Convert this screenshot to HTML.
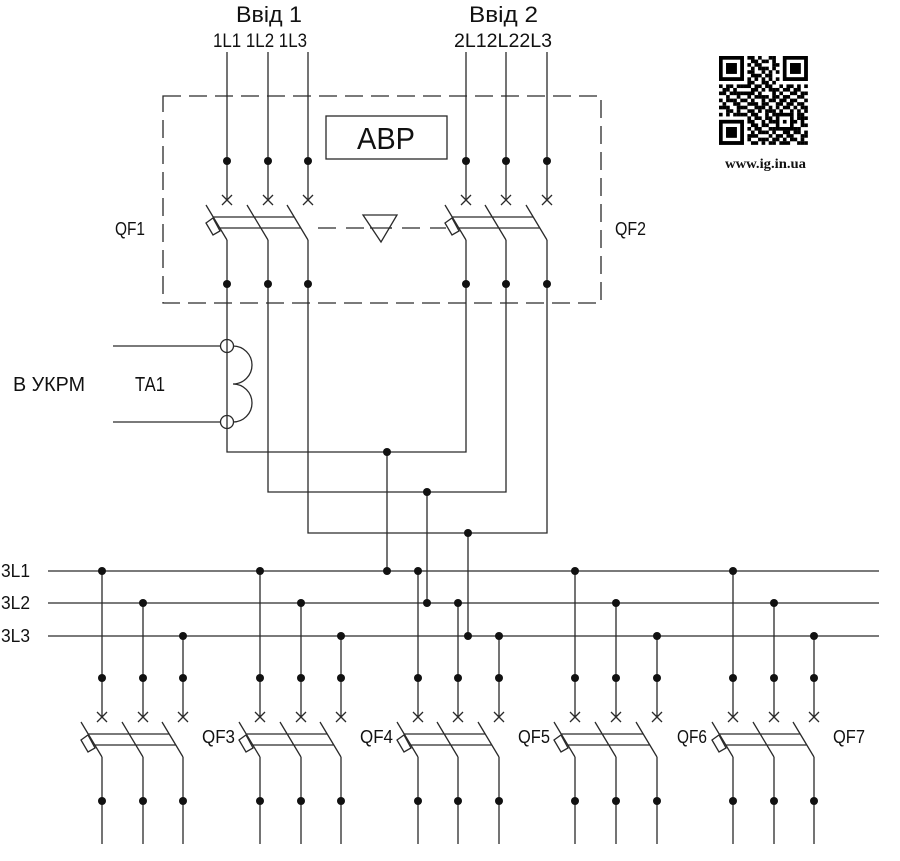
<!DOCTYPE html>
<html><head><meta charset="utf-8"><style>
html,body{margin:0;padding:0;background:#fff;}
svg{display:block;}
text{font-family:"Liberation Sans","DejaVu Sans",sans-serif;fill:#111;}
</style></head><body>
<svg id="s" width="900" height="861" viewBox="0 0 900 861" xmlns="http://www.w3.org/2000/svg">
<rect width="900" height="861" fill="#fff"/>
<g stroke="#2a2a2a" stroke-width="1.3" fill="none">
<!-- dashed ABP box -->
<rect x="163" y="96" width="438" height="207" stroke-dasharray="18 8"/>
<rect x="326" y="116" width="121" height="43"/>
<!-- top input wires -->
<path d="M227,52V200 M268,52V200 M308,52V200 M466,52V200 M506,52V200 M547,52V200"/>
<!-- QF1 -->
<path d="M222,195l10,10m0,-10l-10,10 M263,195l10,10m0,-10l-10,10 M303,195l10,10m0,-10l-10,10"/>
<path d="M206,205L227,240 M247,205L268,240 M287,205L308,240"/>
<path d="M213.2,217H294.2 M219.8,228H300.8"/>
<!-- QF2 -->
<path d="M461,195l10,10m0,-10l-10,10 M501,195l10,10m0,-10l-10,10 M542,195l10,10m0,-10l-10,10"/>
<path d="M445,205L466,240 M485,205L506,240 M526,205L547,240"/>
<path d="M452.2,217H533.2 M458.8,228H539.8"/>
<!-- interlock dashed -->
<path d="M318,228H446" stroke-dasharray="18 10"/>
<polygon points="363,215 397,215 381,242" fill="#fff"/>
<path d="M370,228H392" stroke-dasharray="0"/>
<!-- wires below top breakers -->
<path d="M227,240V452H466V240 M268,240V492H506V240 M308,240V533H547V240"/>
<path d="M387,452V571 M427,492V603 M468,533V636"/>
<!-- TA1 -->
<path d="M113,346H220.5 M113,422H220.5"/>
<circle cx="227" cy="346" r="6.5" fill="#fff"/>
<circle cx="227" cy="422" r="6.5" fill="#fff"/>
<path d="M227,339.5V352.5 M227,415.5V428.5"/>
<path d="M233,346A19,19 0 0 1 233,384A19,19 0 0 1 233,422"/>
<!-- buses -->
<path d="M48,571H879 M48,603H879 M48,636H879"/>
<!-- bottom groups -->
<path d="M102,571V717 M143,603V717 M183,636V717 M102,757V844 M143,757V844 M183,757V844
M97,712l10,10m0,-10l-10,10 M138,712l10,10m0,-10l-10,10 M178,712l10,10m0,-10l-10,10
M81,722L102,757 M122,722L143,757 M162,722L183,757 M88.2,734H169.2 M94.8,745H175.8"/>
<path d="M260,571V717 M301,603V717 M341,636V717 M260,757V844 M301,757V844 M341,757V844
M255,712l10,10m0,-10l-10,10 M296,712l10,10m0,-10l-10,10 M336,712l10,10m0,-10l-10,10
M239,722L260,757 M280,722L301,757 M320,722L341,757 M246.2,734H327.2 M252.8,745H333.8"/>
<path d="M418,571V717 M458,603V717 M499,636V717 M418,757V844 M458,757V844 M499,757V844
M413,712l10,10m0,-10l-10,10 M453,712l10,10m0,-10l-10,10 M494,712l10,10m0,-10l-10,10
M397,722L418,757 M437,722L458,757 M478,722L499,757 M404.2,734H485.2 M410.8,745H491.8"/>
<path d="M575,571V717 M616,603V717 M657,636V717 M575,757V844 M616,757V844 M657,757V844
M570,712l10,10m0,-10l-10,10 M611,712l10,10m0,-10l-10,10 M652,712l10,10m0,-10l-10,10
M554,722L575,757 M595,722L616,757 M636,722L657,757 M561.2,734H643.2 M567.8,745H649.8"/>
<path d="M733,571V717 M774,603V717 M814,636V717 M733,757V844 M774,757V844 M814,757V844
M728,712l10,10m0,-10l-10,10 M769,712l10,10m0,-10l-10,10 M809,712l10,10m0,-10l-10,10
M712,722L733,757 M753,722L774,757 M793,722L814,757 M719.2,734H800.2 M725.8,745H806.8"/>
<!-- actuators -->
<g fill="#fff">
<polygon points="206,223 213,218 220,231 213,235"/>
<polygon points="445,223 452,218 459,231 452,235"/>
<polygon points="81,740 88,735 95,748 88,752"/>
<polygon points="239,740 246,735 253,748 246,752"/>
<polygon points="397,740 404,735 411,748 404,752"/>
<polygon points="554,740 561,735 568,748 561,752"/>
<polygon points="712,740 719,735 726,748 719,752"/>
</g>
</g>
<!-- dots -->
<g fill="#111">
<circle cx="227" cy="161" r="4"/><circle cx="268" cy="161" r="4"/><circle cx="308" cy="161" r="4"/>
<circle cx="466" cy="161" r="4"/><circle cx="506" cy="161" r="4"/><circle cx="547" cy="161" r="4"/>
<circle cx="227" cy="284" r="4"/><circle cx="268" cy="284" r="4"/><circle cx="308" cy="284" r="4"/>
<circle cx="466" cy="284" r="4"/><circle cx="506" cy="284" r="4"/><circle cx="547" cy="284" r="4"/>
<circle cx="387" cy="452" r="4"/><circle cx="427" cy="492" r="4"/><circle cx="468" cy="533" r="4"/>
<circle cx="387" cy="571" r="4"/><circle cx="427" cy="603" r="4"/><circle cx="468" cy="636" r="4"/>
<circle cx="102" cy="571" r="4"/><circle cx="143" cy="603" r="4"/><circle cx="183" cy="636" r="4"/>
<circle cx="260" cy="571" r="4"/><circle cx="301" cy="603" r="4"/><circle cx="341" cy="636" r="4"/>
<circle cx="418" cy="571" r="4"/><circle cx="458" cy="603" r="4"/><circle cx="499" cy="636" r="4"/>
<circle cx="575" cy="571" r="4"/><circle cx="616" cy="603" r="4"/><circle cx="657" cy="636" r="4"/>
<circle cx="733" cy="571" r="4"/><circle cx="774" cy="603" r="4"/><circle cx="814" cy="636" r="4"/>
<circle cx="102" cy="678" r="4"/><circle cx="143" cy="678" r="4"/><circle cx="183" cy="678" r="4"/>
<circle cx="260" cy="678" r="4"/><circle cx="301" cy="678" r="4"/><circle cx="341" cy="678" r="4"/>
<circle cx="418" cy="678" r="4"/><circle cx="458" cy="678" r="4"/><circle cx="499" cy="678" r="4"/>
<circle cx="575" cy="678" r="4"/><circle cx="616" cy="678" r="4"/><circle cx="657" cy="678" r="4"/>
<circle cx="733" cy="678" r="4"/><circle cx="774" cy="678" r="4"/><circle cx="814" cy="678" r="4"/>
<circle cx="102" cy="801" r="4"/><circle cx="143" cy="801" r="4"/><circle cx="183" cy="801" r="4"/>
<circle cx="260" cy="801" r="4"/><circle cx="301" cy="801" r="4"/><circle cx="341" cy="801" r="4"/>
<circle cx="418" cy="801" r="4"/><circle cx="458" cy="801" r="4"/><circle cx="499" cy="801" r="4"/>
<circle cx="575" cy="801" r="4"/><circle cx="616" cy="801" r="4"/><circle cx="657" cy="801" r="4"/>
<circle cx="733" cy="801" r="4"/><circle cx="774" cy="801" r="4"/><circle cx="814" cy="801" r="4"/>
</g>
<!-- labels -->
<text x="236" y="22" font-size="22" textLength="66" lengthAdjust="spacingAndGlyphs">Ввід 1</text>
<text x="469" y="22" font-size="22" textLength="69" lengthAdjust="spacingAndGlyphs">Ввід 2</text>
<text x="213" y="47" font-size="19" textLength="94" lengthAdjust="spacingAndGlyphs">1L1 1L2 1L3</text>
<text x="454" y="47" font-size="19" textLength="98" lengthAdjust="spacingAndGlyphs">2L12L22L3</text>
<text x="357" y="149" font-size="31" textLength="58" lengthAdjust="spacingAndGlyphs">АВР</text>
<text x="115" y="235" font-size="18" textLength="30" lengthAdjust="spacingAndGlyphs">QF1</text>
<text x="615" y="235" font-size="18" textLength="31" lengthAdjust="spacingAndGlyphs">QF2</text>
<text x="13" y="391" font-size="20" textLength="72" lengthAdjust="spacingAndGlyphs">В УКРМ</text>
<text x="135" y="391" font-size="20" textLength="30" lengthAdjust="spacingAndGlyphs">ТА1</text>
<text x="1" y="577" font-size="18" textLength="29" lengthAdjust="spacingAndGlyphs">3L1</text>
<text x="1" y="609" font-size="18" textLength="29" lengthAdjust="spacingAndGlyphs">3L2</text>
<text x="1" y="642" font-size="18" textLength="29" lengthAdjust="spacingAndGlyphs">3L3</text>
<text x="202" y="743" font-size="18" textLength="33" lengthAdjust="spacingAndGlyphs">QF3</text>
<text x="360" y="743" font-size="18" textLength="33" lengthAdjust="spacingAndGlyphs">QF4</text>
<text x="518" y="743" font-size="18" textLength="32" lengthAdjust="spacingAndGlyphs">QF5</text>
<text x="677" y="743" font-size="18" textLength="30" lengthAdjust="spacingAndGlyphs">QF6</text>
<text x="833" y="743" font-size="18" textLength="32" lengthAdjust="spacingAndGlyphs">QF7</text>
<text x="725" y="168" font-size="14" font-weight="bold" textLength="81" lengthAdjust="spacingAndGlyphs" style="font-family:'Liberation Serif',serif">www.ig.in.ua</text>
<!-- QR static finders -->
<g id="qr" fill="#000">
<rect x="719" y="56" width="24.85" height="24.85"/><rect x="722.55" y="59.55" width="17.75" height="17.75" fill="#fff"/><rect x="726.1" y="63.1" width="10.65" height="10.65"/>
<rect x="782.9" y="56" width="24.85" height="24.85"/><rect x="786.45" y="59.55" width="17.75" height="17.75" fill="#fff"/><rect x="790" y="63.1" width="10.65" height="10.65"/>
<rect x="719" y="119.9" width="24.85" height="24.85"/><rect x="722.55" y="123.45" width="17.75" height="17.75" fill="#fff"/><rect x="726.1" y="127" width="10.65" height="10.65"/>
</g>
</svg>
<script>
(function(){
var rows=[
"1111111 0 110100110 0 1111111",
"1000001 0 011011010 0 1000001",
"1011101 0 101100011 0 1011101",
"1011101 0 010111010 0 1011101",
"1011101 0 110010101 0 1011101",
"1000001 0 011101100 0 1000001",
"1111111 0 101010101 0 1111111",
"0000000 0 110011010 0 0000000",
"1011011 1 101101100 1 0110101",
"0110100 0 011010111 0 1101100",
"1101111 1 110100010 1 0011011",
"0010010 0 101111011 0 1100110",
"1011101 1 010010110 1 1011001",
"0100110 0 111011001 1 0110110",
"1110011 1 001110101 0 1101011",
"0011010 0 110101110 1 0010101",
"1010111 1 011001011 1 1110110",
"0000000 0 101101101 0 0010111",
"1111111 0 110010110 1 1101010",
"1000001 0 011011001 0 0110011",
"1011101 0 101100111 1 1011100",
"1011101 0 010111010 0 1101101",
"1011101 0 111000101 1 0110011",
"1000001 0 100111011 0 1011010",
"1111111 0 011010110 1 1100111"];
var g=[];for(var r=0;r<25;r++){g.push(rows[r].replace(/ /g,'').split(''));}
for(var r=16;r<=20;r++)for(var c=16;c<=20;c++){var e=(r==16||r==20||c==16||c==20||(r==18&&c==18));g[r][c]=e?'1':'0';}
var ns="http://www.w3.org/2000/svg",q=document.getElementById('qr');
for(var r=0;r<25;r++)for(var c=0;c<25;c++){if(g[r][c]=='1'){var e=document.createElementNS(ns,'rect');e.setAttribute('x',(719+c*3.55).toFixed(2));e.setAttribute('y',(56+r*3.55).toFixed(2));e.setAttribute('width','3.65');e.setAttribute('height','3.65');q.appendChild(e);}}
})();
</script>
</body></html>
